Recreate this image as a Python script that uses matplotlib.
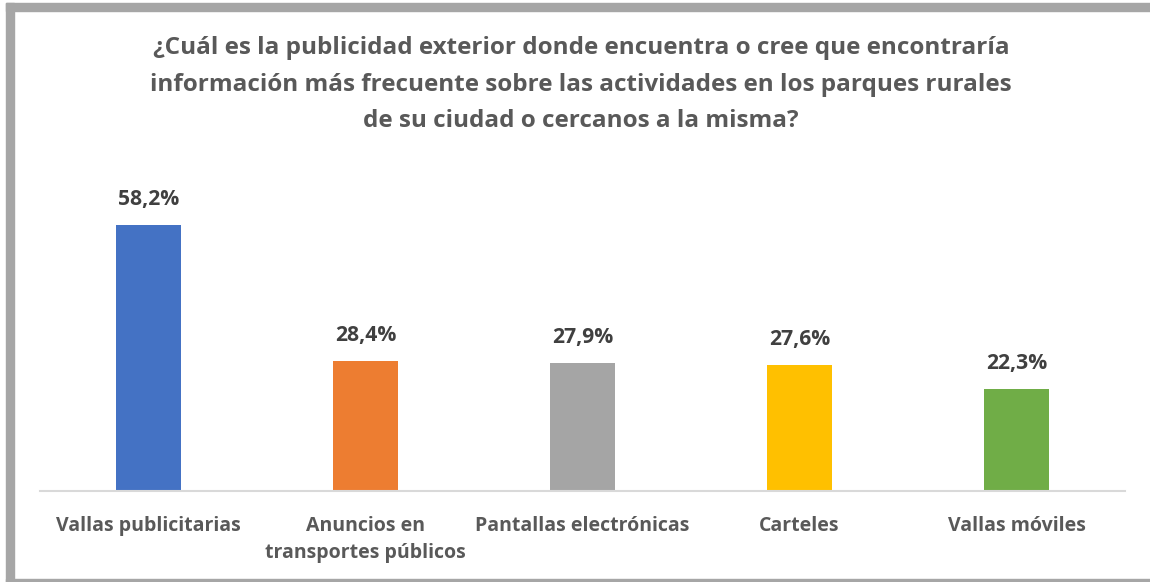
import matplotlib
matplotlib.use("Agg")
import matplotlib.pyplot as plt
from matplotlib.patches import Rectangle

categories = ["Vallas publicitarias", "Anuncios en\ntransportes públicos",
              "Pantallas electrónicas", "Carteles", "Vallas móviles"]
values = [58.2, 28.4, 27.9, 27.6, 22.3]
value_labels = ["58,2%", "28,4%", "27,9%", "27,6%", "22,3%"]
colors = ["#4472C4", "#ED7D31", "#A5A5A5", "#FFC000", "#70AD47"]
title = ("¿Cuál es la publicidad exterior donde encuentra o cree que encontraría\n"
         "información más frecuente sobre las actividades en los parques rurales\n"
         "de su ciudad o cercanos a la misma?")

plt.rcParams['font.family'] = ['Open Sans', 'DejaVu Sans']

W, H = 1150, 582
fig = plt.figure(figsize=(W / 100, H / 100), dpi=100)

# plot area: x 40..1125, y 190..491 (pixels from top)
ax = fig.add_axes([40 / W, 1 - 491 / H, 1085 / W, (491 - 190) / H])
x = list(range(len(categories)))
ax.bar(x, values, width=0.295, color=colors, zorder=2)
ax.set_xlim(-0.5, len(categories) - 0.5)
ax.set_ylim(0, (491 - 190) / 4.57)
for s in ["top", "right", "left"]:
    ax.spines[s].set_visible(False)
ax.spines["bottom"].set_color("#D9D9D9")
ax.spines["bottom"].set_linewidth(1.5)
ax.set_yticks([])
ax.set_xticks(x)
ax.set_xticklabels(categories, fontsize=14, fontweight="bold", color="#595959",
                   va="top", linespacing=1.48)
ax.tick_params(axis="x", length=0, pad=18)
for xi, v, lab in zip(x, values, value_labels):
    ax.annotate(lab, (xi, v), xytext=(0, 11), textcoords="offset points",
                ha="center", va="bottom", fontsize=15.2, fontweight="bold",
                color="#404040")

fig.text(581 / W, 1 - 36.5 / H, title, ha="center", va="top", fontsize=17.5,
         fontweight="bold", color="#595959", linespacing=1.68)

# chart border (grey frame, left/top/bottom)
border = "#A6A6A6"
fig.add_artist(Rectangle((6 / W, 0), 8 / W, 1 - 3 / H, transform=fig.transFigure,
                         color=border, zorder=5))
fig.add_artist(Rectangle((6 / W, 1 - 11 / H), 1, 8 / H, transform=fig.transFigure,
                         color=border, zorder=5))
fig.add_artist(Rectangle((6 / W, 0), 1, 3.5 / H, transform=fig.transFigure,
                         color=border, zorder=5))

fig.savefig("out.png", dpi=100, facecolor="white")
